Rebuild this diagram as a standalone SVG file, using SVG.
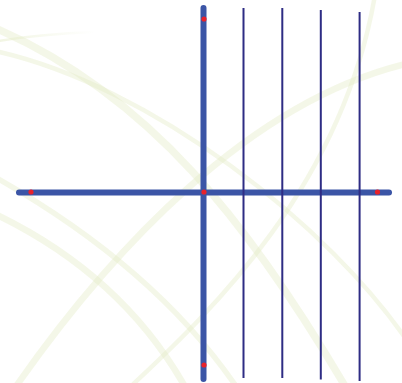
<svg xmlns="http://www.w3.org/2000/svg" width="402" height="383" viewBox="0 0 402 383">
  <defs>
    <style>
      .bg { fill: none; stroke: #e2eac2; stroke-opacity: 0.38; stroke-linecap: butt; }
      .thick { stroke: #3b55a6; stroke-width: 6; stroke-linecap: round; fill: none; }
      .thin { stroke: #2e2c84; stroke-width: 2; fill: none; }
      .dot { fill: #e8222b; }
    </style>
    <linearGradient id="fade" x1="0" y1="0" x2="95" y2="0" gradientUnits="userSpaceOnUse">
      <stop offset="0" stop-color="#e2eac2" stop-opacity="0.45"/>
      <stop offset="1" stop-color="#e2eac2" stop-opacity="0"/>
    </linearGradient>
  </defs>
  <rect width="402" height="383" fill="#ffffff"/>
  <g id="background">
    <path class="bg" stroke-width="7.5" d="M -5,28 C 150,95 250,225 345,386"/>
    <path class="bg" stroke-width="4.5" d="M -5,51 C 150,85 330,225 410,345"/>
    <path class="bg" stroke-width="6.5" d="M 10,395 C 110,250 250,100 410,63"/>
    <path class="bg" stroke-width="4.5" d="M 125,392 C 190,330 340,200 375,-5"/>
    <path class="bg" stroke-width="5.5" d="M -5,177 C 80,225 175,295 240,392"/>
    <path class="bg" stroke-width="6.5" d="M -5,214 C 70,250 140,305 188,392"/>
    <path fill="none" stroke="url(#fade)" stroke-width="2.5" d="M -2,41 Q 40,34 95,32"/>
  </g>
  <g id="connectors">
    <line id="axis-h" class="thick" x1="19" y1="192.5" x2="389" y2="192.5"/>
    <line id="axis-v" class="thick" x1="203.5" y1="8" x2="203.5" y2="379"/>
    <line id="line-1" class="thin" x1="243.5" y1="8" x2="243.5" y2="378"/>
    <line id="line-2" class="thin" x1="282.3" y1="8" x2="282.3" y2="378"/>
    <line id="line-3" class="thin" x1="320.8" y1="10" x2="320.8" y2="379.5"/>
    <line id="line-4" class="thin" x1="359.6" y1="12" x2="359.6" y2="381"/>
  </g>
  <g id="point-top"><circle class="dot" cx="204" cy="19" r="2.6"/></g>
  <g id="point-center"><circle class="dot" cx="204" cy="192" r="2.6"/></g>
  <g id="point-bottom"><circle class="dot" cx="204" cy="365" r="2.6"/></g>
  <g id="point-left"><circle class="dot" cx="31" cy="192" r="2.6"/></g>
  <g id="point-right"><circle class="dot" cx="377.5" cy="192" r="2.6"/></g>
</svg>
